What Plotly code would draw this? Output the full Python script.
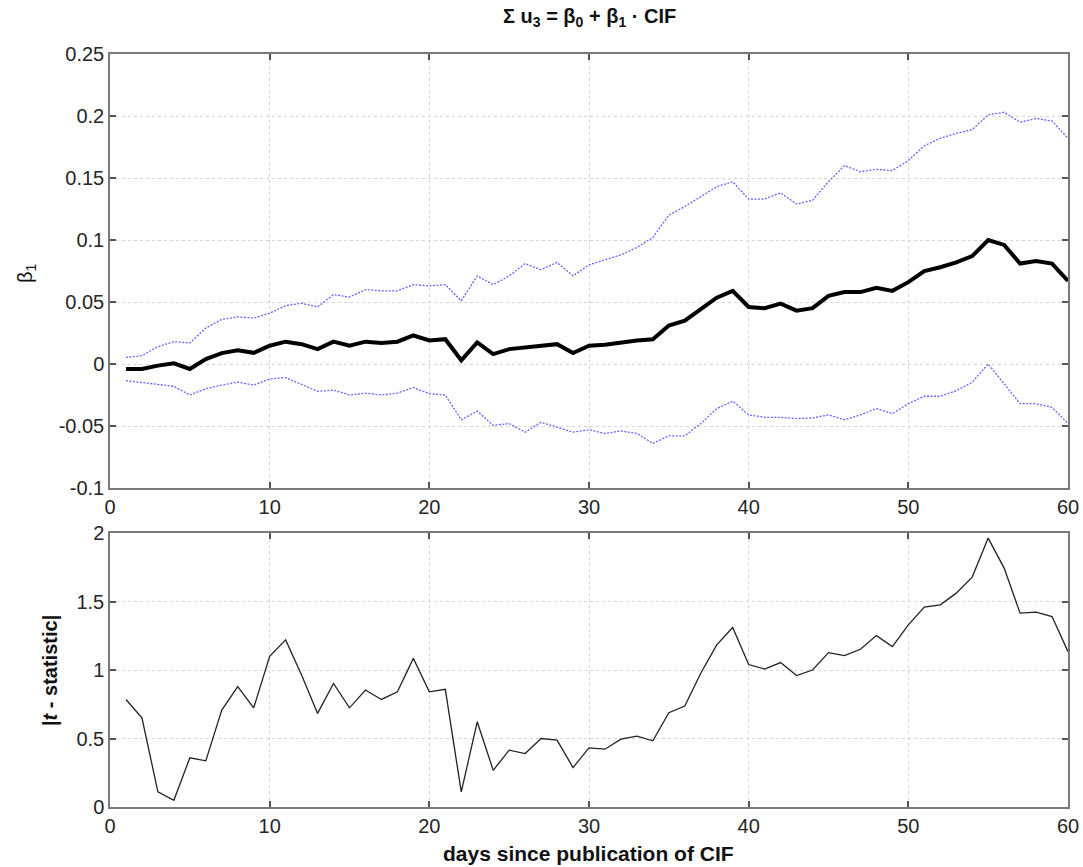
import plotly.graph_objects as go

days = list(range(1, 61))

beta1 = [-0.004, -0.004, -0.0013, 0.0005, -0.004, 0.004, 0.0088, 0.011, 0.009, 0.0147,
         0.018, 0.016, 0.012, 0.018, 0.0147, 0.018, 0.017, 0.018, 0.023, 0.019,
         0.020, 0.003, 0.0174, 0.008, 0.012, 0.0134, 0.0147, 0.016, 0.0088, 0.0147,
         0.0155, 0.0174, 0.019, 0.020, 0.031, 0.035, 0.044, 0.0535, 0.059, 0.046,
         0.045, 0.0487, 0.043, 0.045, 0.055, 0.058, 0.058, 0.0615, 0.059, 0.066,
         0.075, 0.078, 0.082, 0.087, 0.100, 0.096, 0.081, 0.083, 0.081, 0.067]

upper = [0.0053, 0.0067, 0.014, 0.018, 0.017, 0.029, 0.036, 0.038, 0.037, 0.041,
         0.047, 0.049, 0.046, 0.056, 0.054, 0.060, 0.059, 0.059, 0.064, 0.063,
         0.064, 0.051, 0.071, 0.064, 0.071, 0.081, 0.076, 0.082, 0.071, 0.080,
         0.084, 0.088, 0.094, 0.102, 0.120, 0.127, 0.135, 0.143, 0.147, 0.133,
         0.133, 0.138, 0.129, 0.132, 0.147, 0.160, 0.155, 0.157, 0.156, 0.164,
         0.176, 0.182, 0.186, 0.189, 0.201, 0.203, 0.195, 0.198, 0.196, 0.182]

lower = [-0.0134, -0.015, -0.0166, -0.018, -0.025, -0.020, -0.017, -0.0147, -0.017, -0.012,
         -0.011, -0.0166, -0.022, -0.021, -0.025, -0.0235, -0.025, -0.0235, -0.019, -0.024,
         -0.025, -0.045, -0.038, -0.0495, -0.048, -0.055, -0.047, -0.051, -0.055, -0.053,
         -0.056, -0.054, -0.056, -0.064, -0.058, -0.058, -0.048, -0.036, -0.030, -0.041,
         -0.043, -0.043, -0.044, -0.0435, -0.041, -0.045, -0.041, -0.036, -0.040, -0.032,
         -0.026, -0.026, -0.0215, -0.0147, 0.000, -0.016, -0.032, -0.032, -0.035, -0.048]

tstat = [0.785, 0.651, 0.11, 0.049, 0.359, 0.337, 0.707, 0.878, 0.724, 1.10,
         1.22, 0.963, 0.683, 0.902, 0.724, 0.854, 0.785, 0.841, 1.085, 0.841,
         0.859, 0.11, 0.622, 0.268, 0.415, 0.39, 0.50, 0.488, 0.288, 0.432,
         0.422, 0.495, 0.517, 0.483, 0.688, 0.737, 0.976, 1.183, 1.31, 1.04,
         1.007, 1.054, 0.959, 1.0, 1.127, 1.105, 1.151, 1.251, 1.171, 1.329,
         1.459, 1.476, 1.561, 1.678, 1.963, 1.744, 1.415, 1.422, 1.39, 1.134]

top_yticks = [-0.1, -0.05, 0, 0.05, 0.1, 0.15, 0.2, 0.25]
top_yticklabels = ["-0.1", "-0.05", "0", "0.05", "0.1", "0.15", "0.2", "0.25"]
bot_yticks = [0, 0.5, 1, 1.5, 2]
bot_yticklabels = ["0", "0.5", "1", "1.5", "2"]
xticks = [0, 10, 20, 30, 40, 50, 60]

FONT = "Liberation Sans, Arial"
blue = "#6464ff"
fig = go.Figure()
fig.add_trace(go.Scatter(x=days, y=upper, mode="lines", line=dict(color=blue, width=1.3, dash="2px,1.5px"),
                         xaxis="x", yaxis="y", showlegend=False))
fig.add_trace(go.Scatter(x=days, y=lower, mode="lines", line=dict(color=blue, width=1.3, dash="2px,1.5px"),
                         xaxis="x", yaxis="y", showlegend=False))
fig.add_trace(go.Scatter(x=days, y=beta1, mode="lines", line=dict(color="black", width=4),
                         xaxis="x", yaxis="y", showlegend=False))
fig.add_trace(go.Scatter(x=days, y=tstat, mode="lines", line=dict(color="#222222", width=1.3),
                         xaxis="x2", yaxis="y2", showlegend=False))

W, H = 1083, 867
xdom = [110 / W, 1068 / W]
ax_common = dict(showline=True, linecolor="#7a7a7a", linewidth=1.5, mirror="all",
                 ticks="inside", ticklen=6, tickcolor="#555555", tickwidth=1.5,
                 showgrid=True, gridcolor="#d6d6d6", griddash="dot", gridwidth=1,
                 zeroline=False, automargin=False,
                 tickfont=dict(family=FONT, size=20, color="#262626"))

fig.update_layout(
    template="none",
    width=W, height=H,
    margin=dict(l=0, r=0, t=0, b=0, pad=0),
    plot_bgcolor="white", paper_bgcolor="white",
    xaxis=dict(domain=xdom, range=[0, 60], tickvals=xticks, anchor="y", **ax_common),
    yaxis=dict(domain=[1 - 488 / H, 1 - 54 / H], range=[-0.1, 0.25], tickvals=top_yticks,
               ticktext=top_yticklabels, anchor="x", **ax_common),
    xaxis2=dict(domain=xdom, range=[0, 60], tickvals=xticks, anchor="y2", **ax_common),
    yaxis2=dict(domain=[1 - 807 / H, 1 - 533 / H], range=[0, 2], tickvals=bot_yticks,
                ticktext=bot_yticklabels, anchor="x2", **ax_common),
    annotations=[
        dict(text="<b>Σ u<sub>3</sub> = β<sub>0</sub> + β<sub>1</sub> · CIF</b>", xref="paper", yref="paper",
             x=589 / W, y=1 - 17 / H, showarrow=False, xanchor="center", yanchor="middle",
             font=dict(family=FONT, size=20, color="#111111")),
        dict(text="β<sub>1</sub>", xref="paper", yref="paper", x=27 / W, y=1 - 273 / H,
             showarrow=False, textangle=-90, xanchor="center", yanchor="middle",
             font=dict(family=FONT, size=20, color="#111111")),
        dict(text="<b>|<i>t</i> - statistic|</b>", xref="paper", yref="paper", x=50 / W, y=1 - 671 / H,
             showarrow=False, textangle=-90, xanchor="center", yanchor="middle",
             font=dict(family=FONT, size=20, color="#111111")),
        dict(text="<b>days since publication of CIF</b>", xref="paper", yref="paper", x=588 / W, y=1 - 853 / H,
             showarrow=False, xanchor="center", yanchor="middle",
             font=dict(family=FONT, size=21, color="#111111")),
    ],
)

fig.write_html("out.html")
